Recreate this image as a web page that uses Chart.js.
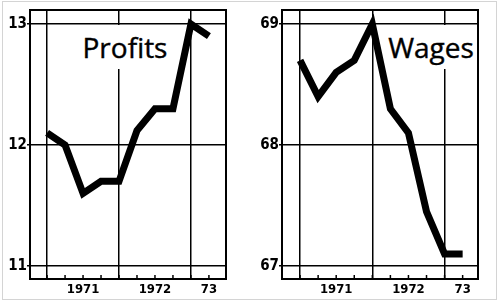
<!DOCTYPE html>
<html>
<head>
<meta charset="utf-8">
<script src="https://cdn.jsdelivr.net/npm/chart.js@4"></script>
<style>
  html, body { margin: 0; padding: 0; background: #fff; }
  body { width: 500px; height: 305px; position: relative; overflow: hidden; }
  .frame { position: absolute; left: 2px; top: 1px; width: 495px; height: 299px;
           border: 1px solid #d4d4d4; box-sizing: border-box; }
  .panel { position: absolute; top: 0; width: 250px; height: 305px; }
  .title { position: absolute; background: #fff; color: #000;
           font-family: 'Open Sans', sans-serif; font-size: 28px; line-height: 44px;
           text-align: center; -webkit-text-stroke: 0.4px #000; }
</style>
</head>
<body>
<div class="frame"></div>
<div class="panel" style="left:0"><canvas id="chartProfits" width="250" height="305"></canvas></div>
<div class="panel" style="left:250px"><canvas id="chartWages" width="250" height="305"></canvas></div>
<div class="title" style="left:79px; top:25px; width:92px; height:44px;">Profits</div>
<div class="title" style="left:387px; top:25px; width:88px; height:44px;">Wages</div>
<script>
// quarterly positions, 1970 Q4 .. 1973 Q1
const quarters = [0, 1, 2, 3, 4, 5, 6, 7, 8, 9];
const profits = [12.1, 12.0, 11.6, 11.7, 11.7, 12.12, 12.3, 12.3, 13.0, 12.9];
const wages = [68.7, 68.4, 68.6, 68.7, 69.0, 68.3, 68.1, 67.45, 67.1, 67.1];

const yearTicks = [2, 6, 9];
const yearLabels = ['1971', '1972', '73'];
const yearLines = [0, 4, 8];
const profitTicks = [11, 12, 13];
const wageTicks = [67, 68, 69];

// box around plot + little quarter ticks on the bottom edge
const framePlugin = {
  id: 'framePlugin',
  afterDraw(chart) {
    const { ctx, chartArea: a, scales } = chart;
    ctx.save();
    ctx.strokeStyle = '#000';
    ctx.lineWidth = 1.5;
    quarters.forEach(q => {
      const px = scales.x.getPixelForValue(q);
      ctx.beginPath();
      ctx.moveTo(px, a.bottom);
      ctx.lineTo(px, a.bottom - 4);
      ctx.stroke();
    });
    ctx.lineWidth = 2;
    ctx.strokeRect(a.left, a.top, a.right - a.left, a.bottom - a.top);
    ctx.restore();
  }
};

function makeChart(id, values, yTicks, yMin, yMax, xMin, xMax, yWidth, padRight) {
  return new Chart(document.getElementById(id), {
    type: 'line',
    data: {
      datasets: [{
        data: quarters.map((q, i) => ({ x: q, y: values[i] })),
        borderColor: '#000',
        borderWidth: 7,
        borderJoinStyle: 'miter',
        borderCapStyle: 'butt',
        pointRadius: 0,
        tension: 0,
        fill: false,
      }]
    },
    options: {
      responsive: false,
      animation: false,
      layout: { padding: { top: 10, right: padRight, left: 0, bottom: 0 } },
      plugins: { legend: { display: false }, tooltip: { enabled: false } },
      scales: {
        x: {
          type: 'linear',
          min: xMin,
          max: xMax,
          afterBuildTicks: s => { s.ticks = quarters.map(v => ({ value: v })); },
          afterFit: s => { s.height = 26; },
          border: { display: false },
          grid: {
            color: c => (c.tick && yearLines.includes(c.tick.value)) ? '#000' : 'rgba(0,0,0,0)',
            lineWidth: 1.5,
            drawTicks: false,
          },
          ticks: {
            autoSkip: false,
            maxRotation: 0,
            padding: 3,
            color: '#000',
            font: { family: "'Liberation Sans Narrow', 'DejaVu Sans Condensed', sans-serif", size: 13, weight: 'bold' },
            callback: v => {
              const k = yearTicks.indexOf(v);
              return k >= 0 ? yearLabels[k] : '';
            }
          }
        },
        y: {
          min: yMin,
          max: yMax,
          afterBuildTicks: s => { s.ticks = yTicks.map(v => ({ value: v })); },
          afterFit: s => { s.width = yWidth; },
          border: { display: false },
          grid: { color: '#000', lineWidth: 1.5, tickLength: 3 },
          ticks: {
            padding: 0,
            color: '#000',
            font: { family: "'DejaVu Sans Condensed', 'DejaVu Sans', sans-serif", size: 15, weight: 'bold' },
          }
        }
      }
    },
    plugins: [framePlugin]
  });
}

makeChart('chartProfits', profits, profitTicks, 10.893, 13.116, -0.95, 9.95, 30, 24);
makeChart('chartWages', wages, wageTicks, 66.893, 69.116, -1, 9.85, 32, 22);
</script>
</body>
</html>
